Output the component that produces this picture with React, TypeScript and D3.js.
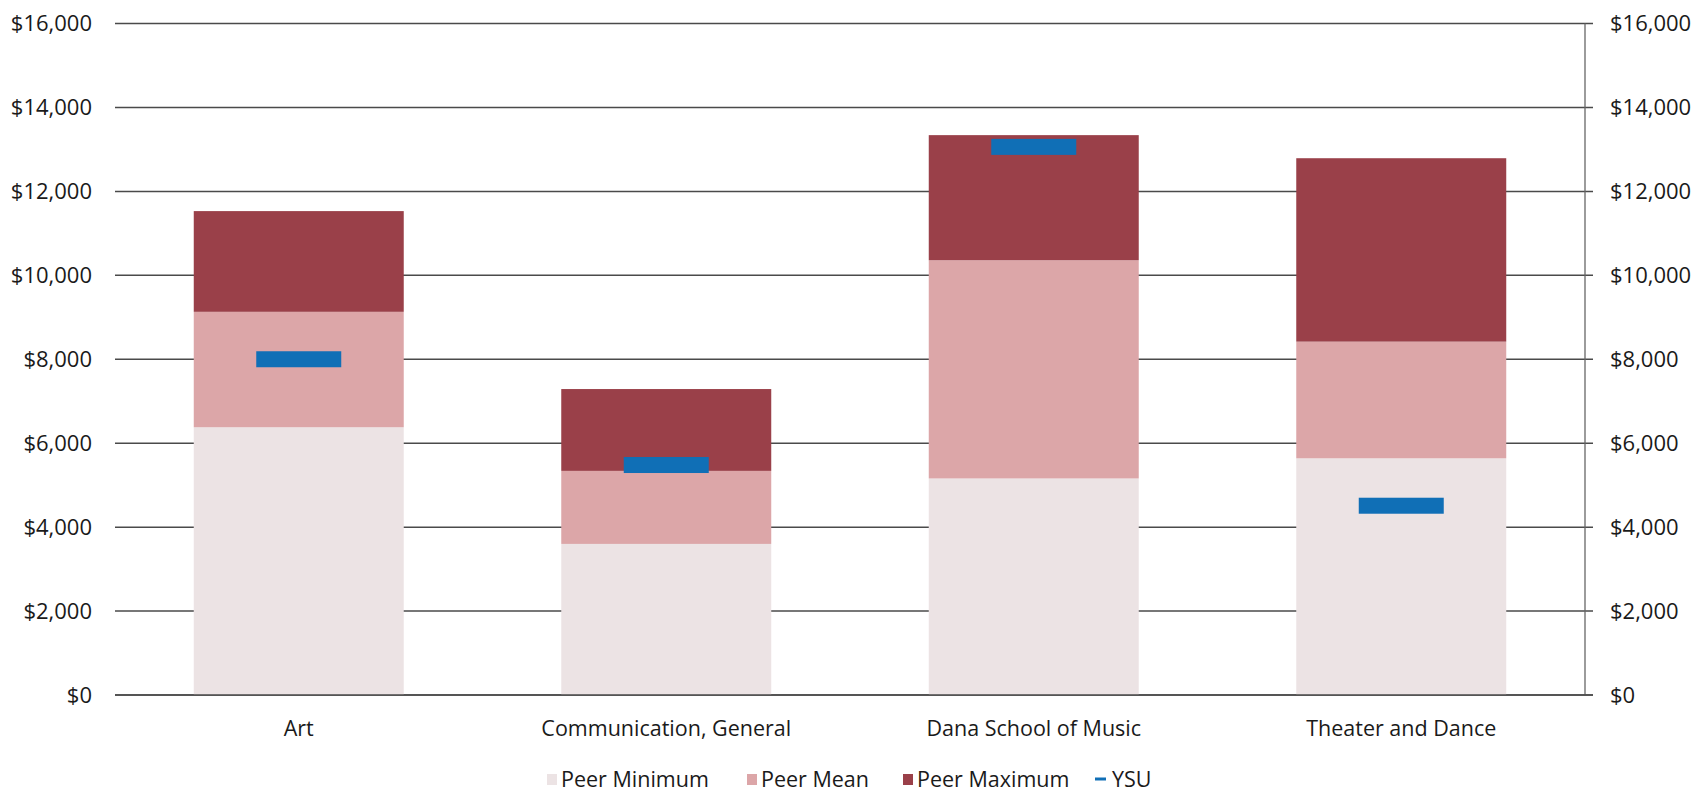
import React from "react";
import * as d3 from "d3";

const categories = ["Art", "Communication, General", "Dana School of Music", "Theater and Dance"];
const peerMinimum = [6380, 3600, 5160, 5640];
const peerMean = [9130, 5340, 10360, 8420];
const peerMaximum = [11530, 7290, 13340, 12790];
const ysu = [8000, 5480, 13060, 4510];
const yTicks = [0, 2000, 4000, 6000, 8000, 10000, 12000, 14000, 16000];
const legendItems = ["Peer Minimum", "Peer Mean", "Peer Maximum", "YSU"];

const W = 1696;
const H = 793;
const FONT = "'Open Sans', sans-serif";
const C_MIN = "#ece3e4";
const C_MEAN = "#dca6a8";
const C_MAX = "#9a4049";
const C_YSU = "#106fb6";
const GRID = "#4a4a4a";
const TXT = "#1a1a1a";

export default function App() {
  const left = 115;
  const right = 1585;
  const top = 23.5;
  const bottom = 695;

  const x = d3.scaleBand<string>().domain(categories).range([left, right]).paddingInner(0.4286).paddingOuter(0.2143);
  const y = d3.scaleLinear().domain([0, 16000]).range([bottom, top]);
  const fmt = (v: number) => "$" + d3.format(",")(v);
  const bw = x.bandwidth();

  const segs: { cat: string; y0: number; y1: number; color: string }[] = [];
  categories.forEach((c, i) => {
    segs.push({ cat: c, y0: 0, y1: peerMinimum[i], color: C_MIN });
    segs.push({ cat: c, y0: peerMinimum[i], y1: peerMean[i], color: C_MEAN });
    segs.push({ cat: c, y0: peerMean[i], y1: peerMaximum[i], color: C_MAX });
  });

  const legendX = [547, 747, 903, 1095];
  const legendColors = [C_MIN, C_MEAN, C_MAX, C_YSU];
  const legendY = 779;

  return (
    <div style={{ position: "absolute", left: 0, top: 0, width: W, height: H, background: "#fff" }}>
      <svg width={W} height={H} style={{ display: "block" }}>
        <rect x={0} y={0} width={W} height={H} fill="#fff" />
        {yTicks.map((t) => (
          <g key={t}>
            <line x1={left} x2={right + 8} y1={y(t)} y2={y(t)} stroke={GRID} strokeWidth={1.5} />
            <text x={92} y={y(t)} dy="0.35em" textAnchor="end" fontFamily={FONT} fontSize={22} fill={TXT}>
              {fmt(t)}
            </text>
            <text x={1610} y={y(t)} dy="0.35em" textAnchor="start" fontFamily={FONT} fontSize={22} fill={TXT}>
              {fmt(t)}
            </text>
          </g>
        ))}
        <line x1={right} x2={right} y1={top} y2={bottom} stroke="#666" strokeWidth={1.3} />
        {segs.map((s, i) => (
          <rect key={i} x={x(s.cat)} y={y(s.y1)} width={bw} height={y(s.y0) - y(s.y1)} fill={s.color} />
        ))}
        <line x1={left} x2={right + 8} y1={bottom} y2={bottom} stroke={GRID} strokeWidth={1.5} />
        {categories.map((c, i) => (
          <rect
            key={"y" + c}
            x={(x(c) as number) + bw / 2 - 42.5}
            y={y(ysu[i]) - 8}
            width={85}
            height={16}
            fill={C_YSU}
          />
        ))}
        {categories.map((c) => (
          <text
            key={"l" + c}
            x={(x(c) as number) + bw / 2}
            y={736}
            textAnchor="middle"
            fontFamily={FONT}
            fontSize={21.5}
            fill={TXT}
          >
            {c}
          </text>
        ))}
        {legendItems.map((name, i) => (
          <g key={name}>
            {i < 3 ? (
              <rect x={legendX[i]} y={legendY - 5} width={10} height={11} fill={legendColors[i]} />
            ) : (
              <line x1={legendX[i]} x2={legendX[i] + 11} y1={legendY} y2={legendY} stroke={C_YSU} strokeWidth={3} />
            )}
            <text x={legendX[i] + (i < 3 ? 14 : 17)} y={legendY} dy="0.35em" fontFamily={FONT} fontSize={21.5} fill={TXT}>
              {name}
            </text>
          </g>
        ))}
      </svg>
    </div>
  );
}
